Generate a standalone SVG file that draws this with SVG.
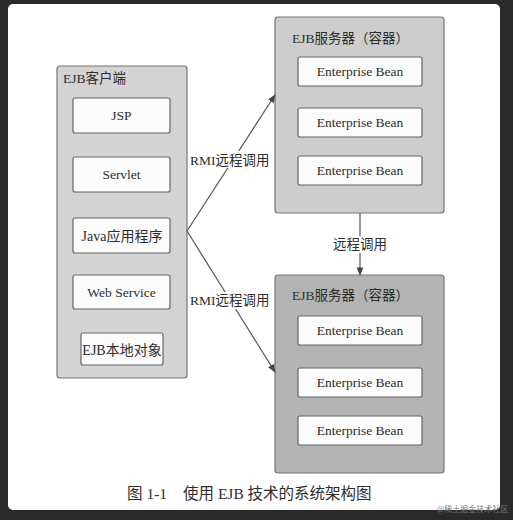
<svg xmlns="http://www.w3.org/2000/svg" width="513" height="520" viewBox="0 0 513 520">
<defs>
<style>
text{font-family:"Liberation Serif","Noto Sans CJK SC",serif;fill:#2e2e2e}
.box{fill:#fbfbfb;stroke:#666;stroke-width:1.2}
.lbl{font-size:13.5px;text-anchor:middle}
.cj{font-size:14px}
.ttl{font-size:13.5px}
.con{stroke:#555;stroke-width:1.2;fill:none}
</style>
<marker id="ah" viewBox="0 0 10 10" refX="9" refY="5" markerWidth="7" markerHeight="7" orient="auto">
<path d="M0,1 L10,5 L0,9 z" fill="#444"/>
</marker>
</defs>
<rect x="0" y="0" width="513" height="520" fill="#2a2a2a"/>
<rect x="8" y="4" width="492" height="506" rx="5" fill="#ffffff"/>

<g id="client">
<rect x="57" y="66" width="130" height="312" rx="3" fill="#d3d3d3" stroke="#777" stroke-width="1.2"/>
<text class="ttl" x="63" y="83">EJB客户端</text>
</g>
<g id="jsp"><rect class="box" x="73" y="98" width="97" height="35" rx="2"/><text class="lbl" x="121.5" y="120">JSP</text></g>
<g id="servlet"><rect class="box" x="73" y="157" width="97" height="35" rx="2"/><text class="lbl" x="121.5" y="179">Servlet</text></g>
<g id="java"><rect class="box" x="73" y="218" width="97" height="35" rx="2"/><text class="lbl cj" x="122" y="240.5">Java应用程序</text></g>
<g id="webservice"><rect class="box" x="73" y="275" width="97" height="34" rx="2"/><text class="lbl" x="121.5" y="297">Web Service</text></g>
<g id="ejblocal"><rect class="box" x="81" y="333" width="82" height="32" rx="2"/><text class="lbl cj" x="122" y="354.5">EJB本地对象</text></g>

<g id="server1">
<rect x="275" y="17" width="169" height="196" rx="3" fill="#cdcdcd" stroke="#777" stroke-width="1.2"/>
<text class="ttl" x="292" y="43">EJB服务器（容器）</text>
</g>
<g id="bean1a"><rect class="box" x="298" y="57" width="124" height="29" rx="2"/><text class="lbl" x="360" y="76">Enterprise Bean</text></g>
<g id="bean1b"><rect class="box" x="298" y="108" width="124" height="29" rx="2"/><text class="lbl" x="360" y="127">Enterprise Bean</text></g>
<g id="bean1c"><rect class="box" x="298" y="156" width="124" height="29" rx="2"/><text class="lbl" x="360" y="175">Enterprise Bean</text></g>

<g id="server2">
<rect x="275" y="275" width="169" height="198" rx="3" fill="#b3b3b3" stroke="#777" stroke-width="1.2"/>
<text class="ttl" x="292" y="300">EJB服务器（容器）</text>
</g>
<g id="bean2a"><rect class="box" x="298" y="316" width="124" height="29" rx="2"/><text class="lbl" x="360" y="335">Enterprise Bean</text></g>
<g id="bean2b"><rect class="box" x="298" y="368" width="124" height="29" rx="2"/><text class="lbl" x="360" y="387">Enterprise Bean</text></g>
<g id="bean2c"><rect class="box" x="298" y="416" width="124" height="29" rx="2"/><text class="lbl" x="360" y="435">Enterprise Bean</text></g>

<g id="connectors">
<path class="con" d="M187,231 L275,95" marker-end="url(#ah)"/>
<path class="con" d="M187,231 L275,372" marker-end="url(#ah)"/>
<path class="con" d="M360,213 L360,275" marker-end="url(#ah)"/>
<rect x="190" y="151" width="82" height="17" fill="#ffffff"/>
<text class="ttl" x="190" y="165">RMI远程调用</text>
<rect x="190" y="292" width="82" height="17" fill="#ffffff"/>
<text class="ttl" x="190" y="305">RMI远程调用</text>
<rect x="332" y="236" width="56" height="17" fill="#ffffff"/>
<text class="ttl" x="360" y="249" text-anchor="middle">远程调用</text>
</g>

<text x="127" y="499" style="font-size:15.5px">图 1-1</text>
<text x="183" y="499" style="font-size:15.5px">使用 EJB 技术的系统架构图</text>
<text x="437" y="512" style="font-size:8px;fill:#777">@稀土掘金技术社区</text>
</svg>
